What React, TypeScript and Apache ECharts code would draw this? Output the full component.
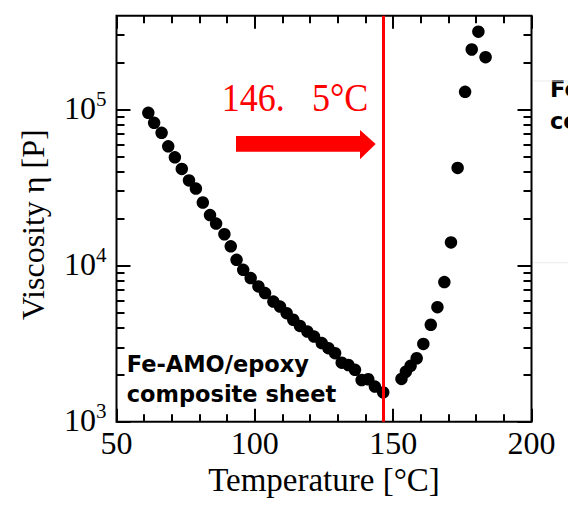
import React, { useEffect, useRef } from "react";
import * as echarts from "echarts";

// Viscosity curve, heating branch — temperature [°C] / viscosity [P]
const leftTemps = [61.5, 63.6, 66.3, 68.7, 71.1, 73.6, 76.2, 78.7, 81.2, 83.8, 86.0, 89.0, 91.3, 93.4, 95.8, 98.5, 101.3, 103.7, 106.7, 109.1, 111.5, 113.9, 116.3, 119.0, 121.4, 124.2, 126.6, 129.0, 131.4, 133.8, 136.2, 138.6, 141.0, 143.4, 146.4];
const leftVisc = [95400, 82300, 71000, 58200, 49500, 41700, 35200, 31200, 25400, 21100, 18600, 15900, 13300, 10900, 9410, 8330, 7360, 6670, 5890, 5470, 4960, 4500, 4110, 3780, 3510, 3190, 2960, 2750, 2390, 2310, 2150, 1850, 1870, 1680, 1540];
// Curing branch
const rightTemps = [153.0, 154.6, 156.3, 158.5, 160.9, 163.6, 166.0, 168.5, 170.9, 173.3, 176.0, 178.4, 180.8, 183.4];
const rightVisc = [1880, 2090, 2280, 2550, 3150, 4180, 5420, 7850, 14100, 42300, 130000, 243000, 316000, 217000];

// Axis ticks
const xMajor = [50, 100, 150, 200];
const xMinor = [60, 70, 80, 90, 110, 120, 130, 140, 160, 170, 180, 190];
const yMajor = [1000, 10000, 100000];
const yMinor = [2000, 3000, 4000, 5000, 6000, 7000, 8000, 9000, 20000, 30000, 40000, 50000, 60000, 70000, 80000, 90000, 200000, 300000];
const yMin = 1000;
const yMax = 400000;

const minTemp = 146.5;
const annotation = "146.\u2002 5°C";
const sampleLabel = "Fe-AMO/epoxy\ncomposite sheet";
const xTitle = "Temperature [°C]";
const yTitle = "Viscosity η [P]";

const SERIF = '"Liberation Serif", "Times New Roman", serif';
const SANS = '"DejaVu Sans", sans-serif';

const W = 568;
const H = 505;
const GRID = { left: 116.5, right: 36.5, top: 15.7, bottom: 83.3 };

export default function App() {
  const ref = useRef<HTMLDivElement>(null);
  useEffect(() => {
    if (!ref.current) return;
    const chart = echarts.init(ref.current, undefined, { renderer: "svg" });
    const data = leftTemps.map((t, i) => [t, leftVisc[i]]).concat(rightTemps.map((t, i) => [t, rightVisc[i]]));
    const xMin = xMajor[0];
    const xMax = xMajor[xMajor.length - 1];
    // tick lengths (px) converted into data units through the axes' linear / log scales
    const pxPerUnit = (W - GRID.left - GRID.right) / (xMax - xMin);
    const pxPerDecade = (H - GRID.top - GRID.bottom) / Math.log10(yMax / yMin);
    const ls = { color: "#000", width: 2, type: "solid", opacity: 1 };
    const seg = (a: number[], b: number[]) => [
      { coord: a, lineStyle: ls },
      { coord: b, lineStyle: ls },
    ];
    const xTickSegs = (v: number, len: number) => {
      const f = Math.pow(10, len / pxPerDecade);
      return [seg([v, yMin], [v, yMin * f]), seg([v, yMax], [v, yMax / f])];
    };
    const yTickSegs = (v: number, len: number) => {
      const d = len / pxPerUnit;
      return [seg([xMin, v], [xMin + d, v]), seg([xMax, v], [xMax - d, v])];
    };
    const tickSegments = [
      ...xMajor.flatMap((v) => xTickSegs(v, 13)),
      ...xMinor.flatMap((v) => xTickSegs(v, 7.5)),
      ...yMajor.flatMap((v) => yTickSegs(v, 14)),
      ...yMinor.flatMap((v) => yTickSegs(v, 8)),
    ];
    chart.setOption({
      animation: false,
      grid: {
        ...GRID,
        show: true,
        borderColor: "#000",
        borderWidth: 2,
        outerBoundsMode: "none",
      },
      xAxis: {
        type: "value",
        min: xMin,
        max: xMax,
        interval: 50,
        axisLine: { show: false },
        axisTick: { show: false },
        splitLine: { show: false },
        axisLabel: { show: true, fontFamily: SERIF, fontSize: 32, color: "#000", margin: 5 },
        name: xTitle,
        nameLocation: "middle",
        nameGap: 42,
        nameMoveOverlap: false,
        nameTextStyle: { fontFamily: SERIF, fontSize: 33, color: "#000" },
      },
      yAxis: {
        type: "log",
        logBase: 10,
        min: yMin,
        max: yMax,
        axisLine: { show: false },
        axisTick: { show: false },
        splitLine: { show: false },
        axisLabel: {
          show: true,
          customValues: yMajor,
          margin: 10,
          formatter: (v: number) => `{b|10}{s|${Math.round(Math.log10(v))}}`,
          rich: {
            b: { fontFamily: SERIF, fontSize: 32, lineHeight: 32, padding: [0, 0, 4, 0], color: "#000" },
            s: { fontFamily: SERIF, fontSize: 21, lineHeight: 21, padding: [0, 0, 22, 0], color: "#000" },
          },
        },
        name: yTitle,
        nameLocation: "middle",
        nameGap: 68,
        nameMoveOverlap: false,
        nameTextStyle: { fontFamily: SERIF, fontSize: 32, color: "#000", padding: [0, 12, 0, 0] },
      },
      series: [
        {
          type: "scatter",
          data,
          symbol: "circle",
          symbolSize: 12.5,
          itemStyle: { color: "#000", opacity: 1 },
          z: 3,
          markLine: {
            silent: true,
            symbol: ["none", "none"],
            label: { show: false },
            lineStyle: { color: "#ff0000", width: 3, type: "solid", opacity: 1 },
            data: [{ xAxis: minTemp }, ...tickSegments],
          },
        },
      ],
      graphic: [
        {
          type: "polygon",
          shape: {
            points: [
              [236, 136],
              [360, 136],
              [360, 130],
              [375.7, 144],
              [360, 159.3],
              [360, 151.7],
              [236, 151.7],
            ],
          },
          style: { fill: "#ff0000" },
        },
        {
          type: "text",
          x: 221.7,
          y: 97.5,
          scaleX: 0.88,
          style: {
            text: annotation,
            fontFamily: SERIF,
            fontSize: 41,
            fill: "#ff0000",
            align: "left",
            verticalAlign: "middle",
          },
        },
        {
          type: "text",
          x: 126.7,
          y: 379.1,
          style: {
            text: sampleLabel,
            fontFamily: SANS,
            fontWeight: "bold",
            fontSize: 22.5,
            lineHeight: 30,
            fill: "#000",
            align: "left",
            verticalAlign: "middle",
          },
        },
        {
          type: "text",
          x: 550,
          y: 104.8,
          style: {
            text: sampleLabel,
            fontFamily: SANS,
            fontWeight: "bold",
            fontSize: 22.5,
            lineHeight: 31.5,
            fill: "#000",
            align: "left",
            verticalAlign: "middle",
          },
        },
        { type: "rect", shape: { x: 533, y: 80.5, width: 35, height: 1 }, style: { fill: "#ececec" } },
        { type: "rect", shape: { x: 533, y: 262.2, width: 35, height: 1 }, style: { fill: "#ececec" } },
      ],
    });
    return () => chart.dispose();
  }, []);
  return <div ref={ref} style={{ position: "fixed", left: 0, top: 0, width: W, height: H, background: "#fff" }} />;
}
